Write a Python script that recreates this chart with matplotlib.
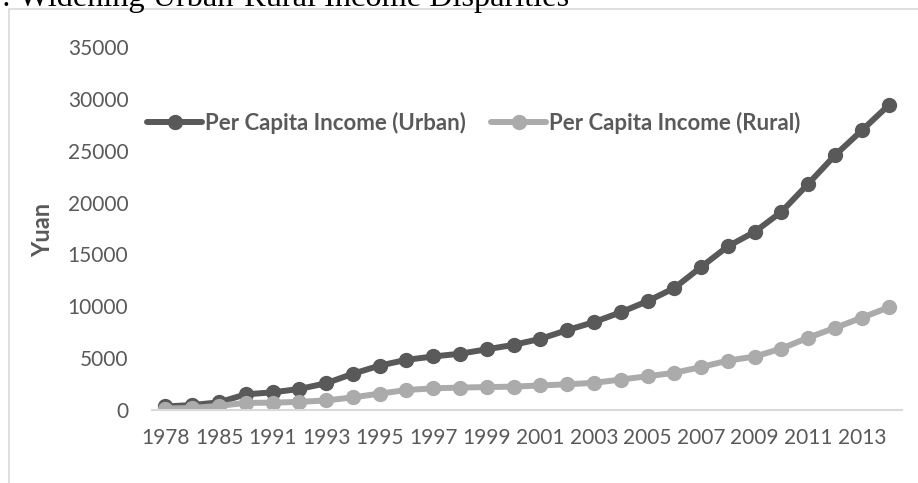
import matplotlib
matplotlib.use("Agg")
import matplotlib.pyplot as plt
from matplotlib.patches import Rectangle

# data
years = ["1978", "1980", "1985", "1990"] + [str(y) for y in range(1991, 2015)]
urban = [343, 478, 739, 1510, 1701, 2027, 2577, 3496, 4283, 4839, 5160, 5425,
         5854, 6280, 6860, 7703, 8472, 9422, 10493, 11759, 13786, 15781, 17175,
         19109, 21810, 24565, 26955, 29381]
rural = [134, 191, 398, 686, 709, 784, 922, 1221, 1578, 1926, 2090, 2162,
         2210, 2253, 2366, 2476, 2622, 2936, 3255, 3587, 4140, 4761, 5153,
         5919, 6977, 7917, 8896, 9892]
yticks = [0, 5000, 10000, 15000, 20000, 25000, 30000, 35000]

W, H = 918, 483
DARK = "#595959"
LIGHT = "#ABABAB"
TXT = "#595959"
plt.rcParams["font.family"] = ["Lato", "DejaVu Sans"]

fig = plt.figure(figsize=(W / 100, H / 100), dpi=100)

# chart-area border (runs past the right/bottom edges)
fig.patches.append(Rectangle((9 / W, -0.1), 1.0, 1 - 9 / H + 0.1, transform=fig.transFigure,
                             fill=False, edgecolor="#D9D9D9", linewidth=1.2))

# cut-off caption above the chart
fig.text(2 / W, 1 - 6 / H, ": Widening Urban-Rural Income Disparities", family="Liberation Serif",
         fontsize=23.3, ha="left", va="baseline", color="black")

ax = fig.add_axes([152 / W, 73 / H, 750 / W, 363 / H])
x = list(range(len(years)))
ax.plot(x, urban, color=DARK, lw=4.3, marker="o", ms=10, label="Per Capita Income (Urban)",
        solid_capstyle="round")
ax.plot(x, rural, color=LIGHT, lw=4.3, marker="o", ms=10, label="Per Capita Income (Rural)",
        solid_capstyle="round")

ax.set_xlim(-0.5, len(years) - 0.5)
ax.set_ylim(0, 35000)
ax.set_yticks(yticks)
ax.set_xticks(x[::2])
ax.set_xticklabels(years[::2])
for s in ["top", "right", "left"]:
    ax.spines[s].set_visible(False)
ax.spines["bottom"].set_color("#D9D9D9")
ax.spines["bottom"].set_linewidth(1.5)
ax.tick_params(axis="both", length=0, labelsize=15, labelcolor=TXT)
ax.tick_params(axis="x", pad=13)
ax.tick_params(axis="y", pad=17)

fig.text(43 / W, 1 - 230 / H, "Yuan", rotation=90, ha="center", va="center",
         fontsize=17, fontweight="bold", color=TXT)

fs = 16
ax.legend(loc="center left", bbox_to_anchor=(147 / W, 1 - 123 / H), bbox_transform=fig.transFigure,
          ncol=2, frameon=False, numpoints=1, borderpad=0, borderaxespad=0,
          handlelength=2.48, handletextpad=0.14, columnspacing=1.13,
          prop={"size": fs, "weight": "bold"}, labelcolor=TXT)

fig.savefig("out.png", dpi=100)
